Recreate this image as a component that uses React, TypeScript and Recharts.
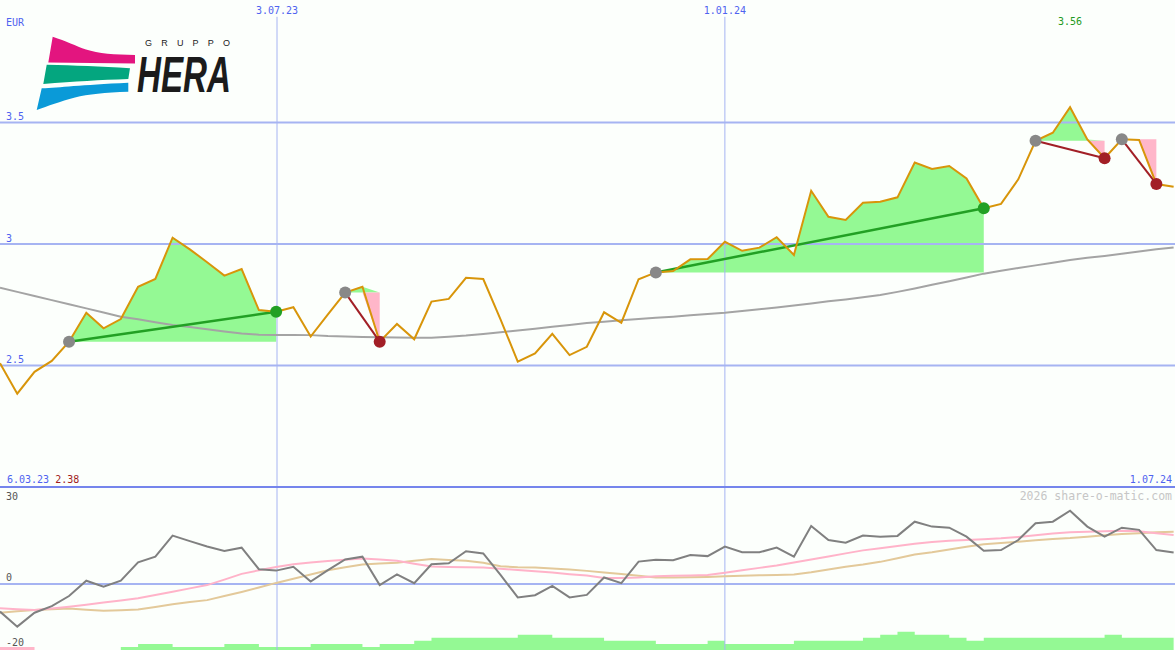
import { ComposedChart, Line, Area, XAxis, YAxis, ReferenceDot, ReferenceLine } from 'recharts';

// weekly closes, 6.03.23 .. 1.07.24 (EUR)
const PRICE = [
  2.509, 2.384, 2.474, 2.519, 2.598, 2.717, 2.653, 2.691, 2.824, 2.856,
  3.026, 2.978, 2.925, 2.87, 2.897, 2.728, 2.721, 2.74, 2.619, 2.71,
  2.8, 2.824, 2.598, 2.671, 2.608, 2.763, 2.774, 2.861, 2.856, 2.69,
  2.516, 2.55, 2.63, 2.543, 2.577, 2.719, 2.676, 2.855, 2.883, 2.889,
  2.937, 2.938, 3.009, 2.972, 2.985, 3.028, 2.955, 3.219, 3.112, 3.099,
  3.17, 3.174, 3.192, 3.335, 3.309, 3.321, 3.27, 3.147, 3.165, 3.266,
  3.425, 3.458, 3.563, 3.43, 3.353, 3.431, 3.428, 3.247, 3.236,
];

// long moving average (grey)
const MA = [
  2.82, 2.803, 2.786, 2.769, 2.752, 2.735, 2.718, 2.701, 2.69, 2.678,
  2.667, 2.658, 2.649, 2.64, 2.632, 2.627, 2.626, 2.626, 2.625, 2.621,
  2.619, 2.617, 2.616, 2.615, 2.614, 2.614, 2.618, 2.623, 2.63, 2.637,
  2.644, 2.651, 2.659, 2.667, 2.675, 2.68, 2.686, 2.691, 2.696, 2.701,
  2.707, 2.712, 2.717, 2.724, 2.731, 2.739, 2.747, 2.755, 2.764, 2.772,
  2.781, 2.79, 2.803, 2.817, 2.832, 2.847, 2.862, 2.878, 2.89, 2.901,
  2.912, 2.923, 2.934, 2.943, 2.951, 2.96, 2.969, 2.978, 2.986,
];

// lower panel oscillator and its two averages
const OSC = [
  -10.1, -15.6, -10.5, -8.1, -4.4, 1.2, -1.0, 1.2, 7.9, 10.0,
  17.7, 15.7, 13.7, 12.1, 13.3, 5.4, 4.9, 6.3, 0.9, 5.1,
  9.0, 10.0, -0.4, 3.5, 0.3, 7.2, 7.6, 12.0, 11.2, 3.3,
  -4.9, -4.1, -0.7, -4.9, -4.0, 2.4, 0.3, 8.2, 8.9, 8.7,
  10.6, 10.2, 13.7, 11.6, 11.6, 13.3, 10.0, 21.2, 16.1, 15.1,
  17.7, 17.3, 17.6, 22.8, 21.0, 20.6, 17.3, 12.2, 12.4, 16.1,
  22.2, 22.8, 26.8, 21.0, 17.3, 20.6, 19.8, 12.4, 11.5,
];

const OSC_FAST = [
  -8.9, -9.2, -9.5, -9.0, -8.3, -7.6, -6.8, -6.0, -5.2, -4.0,
  -2.8, -1.6, -0.4, 1.6, 3.7, 5.0, 6.2, 7.2, 7.9, 8.4,
  8.9, 9.3, 9.0, 8.5, 7.4, 6.4, 6.2, 6.1, 6.0, 5.6,
  5.1, 4.7, 4.2, 3.6, 3.1, 2.2, 2.2, 2.4, 2.8, 3.0,
  3.1, 3.3, 4.1, 5.0, 5.9, 6.8, 7.9, 9.0, 10.1, 11.2,
  12.3, 13.1, 13.9, 14.7, 15.4, 15.8, 16.1, 16.4, 16.7, 17.2,
  17.8, 18.5, 18.9, 19.1, 19.3, 19.5, 19.3, 18.6, 17.9,
];

const OSC_SLOW = [
  -10.5, -10.0, -9.5, -9.2, -9.0, -9.4, -9.8, -9.6, -9.3, -8.4,
  -7.4, -6.6, -5.9, -4.4, -2.9, -1.3, 0.4, 1.9, 3.5, 5.0,
  6.1, 7.1, 7.5, 7.8, 8.5, 9.1, 8.8, 8.5, 7.8, 6.5,
  6.1, 6.0, 5.7, 5.3, 4.8, 4.2, 3.7, 3.0, 2.4, 2.4,
  2.5, 2.6, 2.8, 3.0, 3.2, 3.3, 3.5, 4.3, 5.3, 6.3,
  7.1, 8.1, 9.4, 10.8, 11.6, 12.6, 13.6, 14.5, 15.0, 15.5,
  16.0, 16.5, 16.8, 17.3, 17.8, 18.3, 18.6, 18.9, 19.1,
];

// relative weekly volume
const VOLUME = [
  1, 1, 0, 0, 0, 0, 0, 1, 2, 2,
  1, 1, 1, 2, 2, 1, 1, 1, 2, 2,
  2, 1, 2, 2, 3, 4, 4, 4, 4, 4,
  5, 5, 4, 4, 4, 3, 3, 3, 2, 2,
  2, 3, 2, 2, 2, 2, 3, 3, 3, 3,
  4, 5, 6, 5, 5, 4, 3, 4, 4, 4,
  4, 4, 4, 4, 5, 4, 4, 4, 4,
];
const VOLUME_PINK_WEEKS = 2;

// trend signals: start week -> end week
const TRENDS = [
  { start: 4, end: 16 },
  { start: 20, end: 22 },
  { start: 38, end: 57 },
  { start: 60, end: 64 },
  { start: 65, end: 67 },
];

const DATE_TICKS = [16.05, 42];
const DATE_LABELS = ['3.07.23', '1.01.24'];
const FIRST_DATE = '6.03.23';
const LAST_DATE = '1.07.24';
const PRICE_TICKS = [2.5, 3, 3.5];
const OSC_TICKS = [-20, 0, 30];

const W = 1175;
const TOP_H = 487;
const LOW_H = 163;
const X_MAX = 68.08;

const BG = '#fcfffc';
const GRID = '#a6b4f2';
const BORDER = '#7585ec';
const BLUE_TEXT = '#4f63f0';
const ORANGE = '#d8950a';
const GREY_MA = '#a4a4a4';
const FILL_UP = '#94f994';
const FILL_DOWN = '#ffb6c9';
const LINE_UP = '#22a024';
const LINE_DOWN = '#a21f26';
const DOT_START = '#888888';
const MONO = '"DejaVu Sans Mono", monospace';

const rows = PRICE.map((p, i) => {
  const row: Record<string, number | null> = { i, price: p, ma: MA[i] };
  TRENDS.forEach((t, k) => {
    const base = PRICE[t.start];
    const inside = i >= t.start && i <= t.end;
    row[`up${k}`] = inside ? Math.max(p, base) : null;
    row[`dn${k}`] = inside ? Math.min(p, base) : null;
    row[`tr${k}`] = i === t.start || i === t.end ? p : null;
  });
  return row;
});

const lowRows = OSC.map((v, i) => ({ i, osc: v, fast: OSC_FAST[i], slow: OSC_SLOW[i], vol: VOLUME[i] }));

const maxPrice = Math.max(...PRICE);
const maxIdx = PRICE.indexOf(maxPrice);
const minPrice = Math.min(...PRICE);

const trendDot = (t: { start: number; end: number }) => (props: any) => {
  const { cx, cy, index, value } = props;
  if (value == null || cx == null || cy == null) return <g key={`d${index}`} />;
  const up = PRICE[t.end] > PRICE[t.start];
  const fill = index === t.start ? DOT_START : up ? LINE_UP : LINE_DOWN;
  return <circle key={`d${index}`} cx={cx} cy={cy} r={6} fill={fill} />;
};

const DateTick = (props: any) => {
  const { x, payload } = props;
  const label = DATE_LABELS[DATE_TICKS.indexOf(payload.value)];
  return (
    <text x={x} y={13.5} textAnchor="middle" fill={BLUE_TEXT} fontSize={10} fontFamily={MONO}>
      {label}
    </text>
  );
};

const PriceTick = (props: any) => (
  <text x={6} y={props.y - 2.5} fill={BLUE_TEXT} fontSize={10} fontFamily={MONO}>
    {String(props.payload.value)}
  </text>
);

const OscTick = (props: any) => {
  const lowest = props.payload.value === Math.min(...OSC_TICKS);
  return (
    <text x={6} y={lowest ? LOW_H - 4 : props.y - 2.5} fill="#555" fontSize={10} fontFamily={MONO}>
      {String(props.payload.value)}
    </text>
  );
};

export default function App() {
  return (
    <div style={{ position: 'absolute', left: 0, top: 0, width: W, height: TOP_H + LOW_H, background: BG, overflow: 'hidden' }}>
      <div style={{ position: 'absolute', left: 0, top: 0 }}>
        <ComposedChart width={W} height={TOP_H} data={rows} margin={{ top: 0, right: 0, bottom: 0, left: 0 }}>
          <XAxis
            dataKey="i"
            type="number"
            domain={[0, X_MAX]}
            orientation="top"
            height={1}
            ticks={DATE_TICKS}
            interval={0}
            axisLine={false}
            tickLine={false}
            tick={(p: any) => <DateTick {...p} />}
          />
          <YAxis
            type="number"
            domain={[2, 4]}
            ticks={PRICE_TICKS}
            interval={0}
            mirror
            width={1}
            axisLine={false}
            tickLine={false}
            tick={(p: any) => <PriceTick {...p} />}
          />
          {PRICE_TICKS.map((v) => (
            <ReferenceLine key={`h${v}`} y={v} stroke={GRID} strokeWidth={2} />
          ))}
          {DATE_TICKS.map((x) => (
            <ReferenceLine
              key={`v${x}`}
              segment={[{ x, y: 3.935 }, { x, y: 2 }]}
              stroke={GRID}
              strokeWidth={1}
            />
          ))}
          {TRENDS.map((t, k) => (
            <Area
              key={`up${k}`}
              dataKey={`up${k}`}
              baseValue={PRICE[t.start]}
              type="linear"
              fill={FILL_UP}
              fillOpacity={1}
              stroke="none"
              dot={false}
              activeDot={false}
              isAnimationActive={false}
            />
          ))}
          {TRENDS.map((t, k) => (
            <Area
              key={`dn${k}`}
              dataKey={`dn${k}`}
              baseValue={PRICE[t.start]}
              type="linear"
              fill={FILL_DOWN}
              fillOpacity={1}
              stroke="none"
              dot={false}
              activeDot={false}
              isAnimationActive={false}
            />
          ))}
          <Line dataKey="ma" type="linear" stroke={GREY_MA} strokeWidth={2} dot={false} activeDot={false} isAnimationActive={false} />
          {TRENDS.map((t, k) => (
            <Line
              key={`tr${k}`}
              dataKey={`tr${k}`}
              type="linear"
              connectNulls
              stroke={PRICE[t.end] > PRICE[t.start] ? LINE_UP : LINE_DOWN}
              strokeWidth={PRICE[t.end] > PRICE[t.start] ? 2.5 : 2}
              dot={trendDot(t)}
              activeDot={false}
              isAnimationActive={false}
            />
          ))}
          <Line dataKey="price" type="linear" stroke={ORANGE} strokeWidth={2} dot={false} activeDot={false} isAnimationActive={false} />
          <ReferenceDot
            x={maxIdx}
            y={4}
            r={1}
            fill="none"
            stroke="none"
            label={{ value: maxPrice.toFixed(2), position: 'bottom', offset: 16, fill: '#1f9a22', fontSize: 10, fontFamily: MONO }}
          />
        </ComposedChart>
      </div>

      <div style={{ position: 'absolute', left: 0, top: TOP_H }}>
        <ComposedChart width={W} height={LOW_H} data={lowRows} margin={{ top: 0, right: 0, bottom: 0, left: 0 }}>
          <defs>
            <linearGradient id="volFill" x1="0" y1="0" x2="1" y2="0">
              <stop offset={VOLUME_PINK_WEEKS / (VOLUME.length - 1)} stopColor={FILL_DOWN} />
              <stop offset={VOLUME_PINK_WEEKS / (VOLUME.length - 1)} stopColor={FILL_UP} />
            </linearGradient>
          </defs>
          <XAxis dataKey="i" type="number" domain={[0, X_MAX]} hide />
          <YAxis
            type="number"
            domain={[-24.15, 35.49]}
            ticks={OSC_TICKS}
            interval={0}
            mirror
            width={1}
            axisLine={false}
            tickLine={false}
            tick={(p: any) => <OscTick {...p} />}
          />
          <YAxis yAxisId="vol" type="number" domain={[0, 53.4]} hide />
          {DATE_TICKS.map((x) => (
            <ReferenceLine key={`lv${x}`} x={x} stroke={GRID} strokeWidth={1} />
          ))}
          <Area
            yAxisId="vol"
            dataKey="vol"
            type="stepAfter"
            fill="url(#volFill)"
            fillOpacity={1}
            stroke="none"
            dot={false}
            activeDot={false}
            isAnimationActive={false}
          />
          <ReferenceLine y={0} stroke={GRID} strokeWidth={2} />
          <Line dataKey="slow" type="linear" stroke="#e3c99a" strokeWidth={2} dot={false} activeDot={false} isAnimationActive={false} />
          <Line dataKey="fast" type="linear" stroke="#ffb3c9" strokeWidth={2} dot={false} activeDot={false} isAnimationActive={false} />
          <Line dataKey="osc" type="linear" stroke="#808080" strokeWidth={2} dot={false} activeDot={false} isAnimationActive={false} />
        </ComposedChart>
      </div>

      <svg width={W} height={TOP_H + LOW_H} style={{ position: 'absolute', left: 0, top: 0, pointerEvents: 'none' }}>
        <text x={6} y={26} fill={BLUE_TEXT} fontSize={10} fontFamily={MONO}>EUR</text>
        <g>
          <path d="M52.7,36.7 C66,41 76,46 86,49.5 C98,53.5 115,54.7 135,55 L135,63.5 L48.3,62.5 Z" fill="#e3157f" />
          <path d="M46.7,64.8 C75,65.5 100,66.5 130,68.3 L128.3,79 C100,80 75,81.5 43.3,84 Z" fill="#04a67f" />
          <path d="M41.7,88.3 C60,87.5 80,85 128.3,82.7 L128.3,91.7 C105,92.5 88,94 75,97.5 C60,101.5 48,106 36.7,110 Z" fill="#0a9ad8" />
          <text x={145} y={45.5} fontSize={9} fontFamily="Liberation Sans, Arial, sans-serif" textLength={85} lengthAdjust="spacing" fill="#222">
            GRUPPO
          </text>
          <text
            x={137}
            y={91.7}
            fontSize={50}
            fontWeight="bold"
            fontStyle="italic"
            fontFamily="Liberation Sans, Arial, sans-serif"
            textLength={94}
            lengthAdjust="spacingAndGlyphs"
            fill="#1b1b1b"
          >
            HERA
          </text>
        </g>
        <rect x={0} y={TOP_H - 1} width={W} height={2} fill={BORDER} />
        <text x={7} y={483} fontSize={10} fontFamily={MONO}>
          <tspan fill={BLUE_TEXT}>{FIRST_DATE}</tspan>
          <tspan fill="#a01c1c">{' ' + minPrice.toFixed(2)}</tspan>
        </text>
        <text x={1172} y={483} textAnchor="end" fill={BLUE_TEXT} fontSize={10} fontFamily={MONO}>{LAST_DATE}</text>
        <text x={1172} y={500} textAnchor="end" fill="#c6c6c6" fontSize={11.5} fontFamily={MONO}>2026 share-o-matic.com</text>
      </svg>
    </div>
  );
}
